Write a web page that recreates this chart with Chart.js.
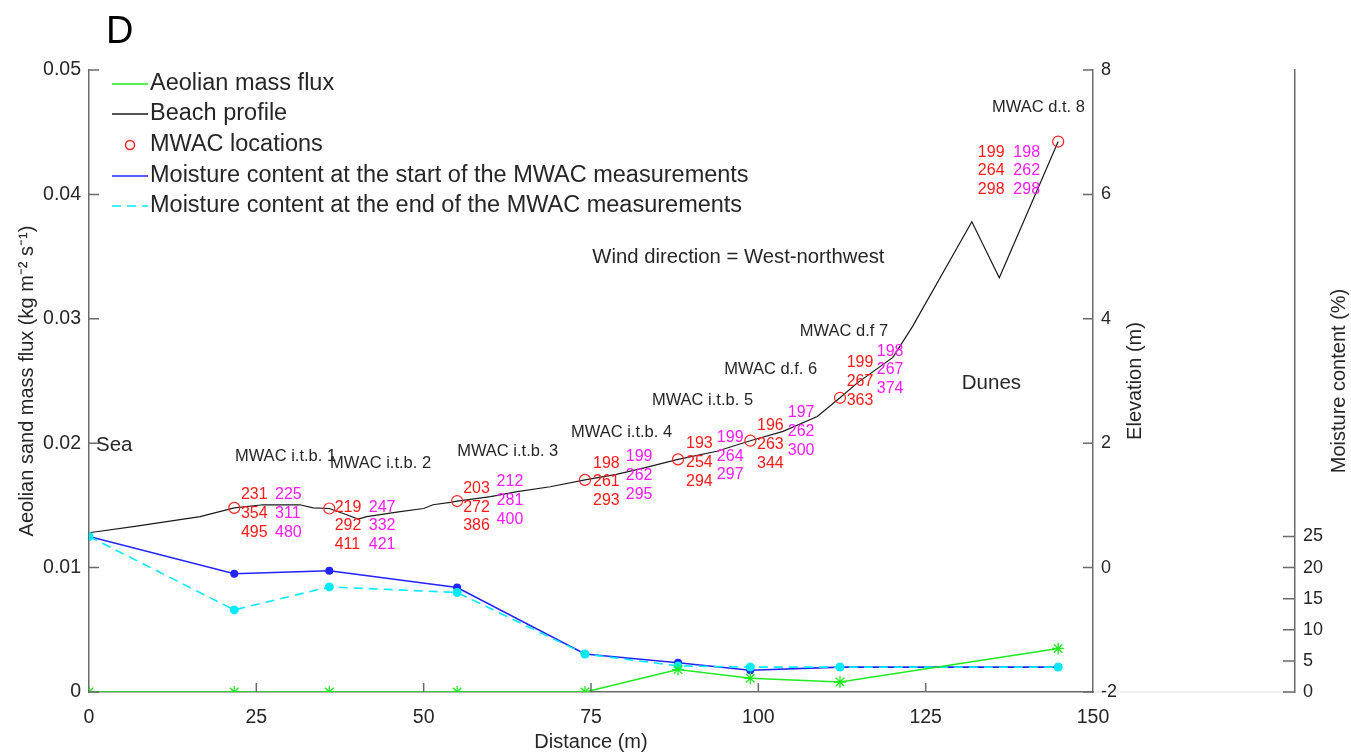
<!DOCTYPE html>
<html>
<head>
<meta charset="utf-8">
<script src="https://cdn.jsdelivr.net/npm/chart.js@4.4.1/dist/chart.umd.min.js"></script>
<style>
  body { margin: 0; background: #fff; }
  #wrap { width: 1351px; height: 753px; position: relative; }
</style>
</head>
<body>
<div id="wrap"><canvas id="myChart"></canvas></div>
<script>
// measurement points (m from the sea)
const distance = [0, 21.7, 35.9, 55, 74.1, 88, 98.8, 112.2, 144.8];
const fluxValues = [0, 0, 0, 0, 0, 0.0018, 0.0011, 0.0008, 0.0035];
const moistureStart = [25, 19.0, 19.5, 16.8, 6.1, 4.7, 3.5, 4.0, 4.0];
const moistureEnd = [25, 13.2, 16.9, 16.0, 6.1, 4.2, 4.0, 4.0, 4.0];

// beach profile
const profileDistance = [0, 6.6, 16.6, 21.7, 26, 31.5, 33.5, 35.9, 38.5, 40.2, 41.5, 46.5, 50, 51.4, 54, 55,
  60, 64, 68.9, 74.1, 78.8, 82.8, 88, 93.8, 98.8, 103.7, 108.8, 112.2, 114.8, 120.1, 123, 131.9, 136, 144.8];
const profileElevation = [0.56, 0.66, 0.82, 0.96, 1.01, 1.01, 0.96, 0.95, 0.85, 0.78, 0.82, 0.9, 0.95, 1.01, 1.05, 1.07,
  1.14, 1.22, 1.30, 1.41, 1.50, 1.60, 1.74, 1.87, 2.04, 2.19, 2.43, 2.73, 2.97, 3.38, 3.87, 5.56, 4.66, 6.85];

// MWAC stations
const mwacDistance = [21.7, 35.9, 55, 74.1, 88, 98.8, 112.2, 144.8];
const mwacElevation = [0.96, 0.95, 1.07, 1.41, 1.74, 2.04, 2.73, 6.85];
const mwacNames = ['MWAC i.t.b. 1', 'MWAC i.t.b. 2', 'MWAC i.t.b. 3', 'MWAC i.t.b. 4',
  'MWAC i.t.b. 5', 'MWAC d.f. 6', 'MWAC d.f 7', 'MWAC d.t. 8'];
const mwacRed = [[231, 354, 495], [219, 292, 411], [203, 272, 386], [198, 261, 293],
  [193, 254, 294], [196, 263, 344], [199, 267, 363], [199, 264, 298]];
const mwacMagenta = [[225, 311, 480], [247, 332, 421], [212, 281, 400], [199, 262, 295],
  [199, 264, 297], [197, 262, 300], [198, 267, 374], [198, 262, 298]];

const fluxTicks = [0, 0.01, 0.02, 0.03, 0.04, 0.05];
const elevTicks = [-2, 0, 2, 4, 6, 8];
const moistTicks = [0, 5, 10, 15, 20, 25];
const distTicks = [0, 25, 50, 75, 100, 125, 150];

// where the text goes, in (distance, elevation)
const namePos = [[21.8, 1.78], [36.0, 1.67], [55.0, 1.87], [72.0, 2.18], [84.1, 2.68], [94.9, 3.19], [106.2, 3.79], [134.9, 7.39]];
const redPos = [[22.7, 1.17], [36.7, 0.97], [55.9, 1.27], [75.3, 1.68], [89.2, 1.99], [99.8, 2.28], [113.2, 3.29], [132.8, 6.68]];
const magPos = [[27.8, 1.17], [41.8, 0.97], [60.9, 1.38], [80.2, 1.78], [93.8, 2.09], [104.4, 2.49], [117.7, 3.48], [138.1, 6.68]];

const FONT = "'Liberation Sans', Arial, sans-serif";
const AXIS = '#6a6a6a';
const TXT = '#262626';
const GREEN = 'rgb(30,235,30)';
const BLUE = 'rgb(35,35,255)';
const CYAN = 'rgb(0,235,255)';

function pts(xs, ys) {
  return xs.map((x, i) => ({ x: x, y: ys[i] }));
}

const extras = {
  id: 'extras',
  beforeDraw(chart) {
    const c = chart.ctx, a = chart.chartArea;
    c.save();
    c.strokeStyle = '#ececec';
    c.lineWidth = 1.5;
    c.beginPath(); c.moveTo(a.right, a.bottom); c.lineTo(chart.scales.yMoist.left, a.bottom); c.stroke();
    c.restore();
  },
  afterDraw(chart) {
    const c = chart.ctx;
    const s = chart.scales;
    const a = chart.chartArea;
    const X = v => s.x.getPixelForValue(v);
    const E = v => s.yElev.getPixelForValue(v);
    c.save();

    // inward tick marks
    c.strokeStyle = AXIS;
    c.lineWidth = 1.5;
    c.beginPath();
    distTicks.slice(1, -1).forEach(v => { c.moveTo(X(v), a.bottom); c.lineTo(X(v), a.bottom - 9); });
    fluxTicks.forEach(v => { const y = s.y.getPixelForValue(v); c.moveTo(a.left, y); c.lineTo(a.left + 10, y); });
    elevTicks.forEach(v => { const y = E(v); c.moveTo(a.right, y); c.lineTo(a.right - 10, y); });
    const mx = s.yMoist.left;
    moistTicks.forEach(v => { const y = s.yMoist.getPixelForValue(v); c.moveTo(mx, y); c.lineTo(mx - 12, y); });
    c.stroke();

    // axis titles
    c.fillStyle = TXT;
    c.textAlign = 'center';
    c.textBaseline = 'middle';
    c.font = '20px ' + FONT;
    const mid = (a.top + a.bottom) / 2;
    c.fillText('Distance (m)', (a.left + a.right) / 2, 742);
    [[27, 'Aeolian sand mass flux (kg m\u207B\u00B2 s\u207B\u00B9)'], [1135, 'Elevation (m)'], [1339, 'Moisture content (%)']].forEach(t => {
      c.save(); c.translate(t[0], mid); c.rotate(-Math.PI / 2); c.fillText(t[1], 0, 0); c.restore();
    });

    // panel letter
    c.textAlign = 'left';
    c.font = '38px ' + FONT;
    c.fillStyle = '#000';
    c.fillText('D', 106, 33);

    // station labels
    c.textBaseline = 'middle';
    c.font = '16.5px ' + FONT;
    c.fillStyle = TXT;
    mwacNames.forEach((n, i) => c.fillText(n, X(namePos[i][0]), E(namePos[i][1])));
    c.font = '20.5px ' + FONT;
    c.fillText('Sea', X(1.05), E(1.97));
    c.fillText('Dunes', X(130.4), E(2.97));
    c.font = '20.3px ' + FONT;
    c.fillText('Wind direction = West-northwest', X(75.2), E(4.98));

    c.font = '16px ' + FONT;
    mwacRed.forEach((col, i) => {
      c.fillStyle = '#ff1a1a';
      col.forEach((v, r) => c.fillText(String(v), X(redPos[i][0]), E(redPos[i][1]) + r * 18.7));
      c.fillStyle = '#ff1aff';
      mwacMagenta[i].forEach((v, r) => c.fillText(String(v), X(magPos[i][0]), E(magPos[i][1]) + r * 18.7));
    });

    // legend
    const lx = a.left + 23, tx = a.left + 61;
    const rows = [14, 44, 75, 106, 136].map(d => a.top + d);
    c.font = '23.5px ' + FONT;
    c.fillStyle = TXT;
    chart.data.datasets.forEach((d, i) => {
      const y = rows[i];
      c.fillText(d.label, tx, y);
      c.strokeStyle = d.borderColor;
      c.lineWidth = 1.5;
      c.setLineDash(d.borderDash || []);
      if (d.showLine === false) {
        c.beginPath(); c.arc(lx + 18, y, 4.5, 0, Math.PI * 2); c.stroke();
      } else {
        c.beginPath(); c.moveTo(lx, y); c.lineTo(lx + 36, y); c.stroke();
      }
      c.setLineDash([]);
    });
    c.restore();
  }
};

const ctx = document.getElementById('myChart').getContext('2d');

const myChart = new Chart(ctx, {
  type: 'line',
  data: {
    datasets: [
      {
        label: 'Aeolian mass flux',
        data: pts(distance, fluxValues),
        yAxisID: 'y',
        borderColor: GREEN,
        backgroundColor: GREEN,
        borderWidth: 1.5,
        pointStyle: 'star',
        pointRadius: 6,
        pointBorderWidth: 1.3,
        order: 1
      },
      {
        label: 'Beach profile',
        data: pts(profileDistance, profileElevation),
        yAxisID: 'yElev',
        borderColor: '#1a1a1a',
        borderWidth: 1.2,
        pointRadius: 0,
        order: 5
      },
      {
        label: 'MWAC locations',
        data: pts(mwacDistance, mwacElevation),
        yAxisID: 'yElev',
        showLine: false,
        borderColor: '#ff2020',
        backgroundColor: 'rgba(0,0,0,0)',
        pointStyle: 'circle',
        pointRadius: 5.5,
        pointBorderWidth: 1.2,
        order: 4
      },
      {
        label: 'Moisture content at the start of the MWAC measurements',
        data: pts(distance, moistureStart),
        yAxisID: 'yMoist',
        borderColor: BLUE,
        backgroundColor: BLUE,
        borderWidth: 1.6,
        pointRadius: 4,
        pointBorderWidth: 0,
        order: 3
      },
      {
        label: 'Moisture content at the end of the MWAC measurements',
        data: pts(distance, moistureEnd),
        yAxisID: 'yMoist',
        borderColor: CYAN,
        backgroundColor: CYAN,
        borderWidth: 1.6,
        borderDash: [9, 6],
        pointRadius: 4.5,
        pointBorderWidth: 0,
        order: 2
      }
    ]
  },
  options: {
    responsive: true,
    maintainAspectRatio: false,
    animation: false,
    layout: { padding: { top: 70, right: 0, left: 0, bottom: 0 } },
    plugins: { legend: { display: false }, tooltip: { enabled: false } },
    elements: { line: { tension: 0 } },
    scales: {
      x: {
        type: 'linear', min: 0, max: 150,
        afterBuildTicks: sc => { sc.ticks = distTicks.map(v => ({ value: v })); },
        ticks: { font: { size: 19.5, family: FONT }, color: TXT, padding: 6 },
        grid: { display: false },
        border: { color: AXIS, width: 1.5 },
        afterFit: sc => { sc.height = 61; }
      },
      y: {
        position: 'left', min: 0, max: 0.05,
        afterBuildTicks: sc => { sc.ticks = fluxTicks.map(v => ({ value: v })); },
        ticks: { font: { size: 19.5, family: FONT }, color: TXT, padding: 0,
          callback: v => v === 0 ? '0' : v.toFixed(2) },
        grid: { display: false },
        border: { color: AXIS, width: 1.5 },
        afterFit: sc => { sc.width = 89; }
      },
      yElev: {
        position: 'right', min: -2, max: 8, weight: 0,
        afterBuildTicks: sc => { sc.ticks = elevTicks.map(v => ({ value: v })); },
        ticks: { font: { size: 18, family: FONT }, color: TXT, padding: 0 },
        grid: { display: false },
        border: { color: AXIS, width: 1.5 },
        afterFit: sc => { sc.width = 202; }
      },
      yMoist: {
        position: 'right', min: 0, max: 100, weight: 1,
        afterBuildTicks: sc => { sc.ticks = moistTicks.map(v => ({ value: v })); },
        ticks: { font: { size: 18, family: FONT }, color: TXT, padding: 0 },
        grid: { display: false },
        border: { color: AXIS, width: 1.5 },
        afterFit: sc => { sc.width = 56; }
      }
    }
  },
  plugins: [extras]
});
</script>
</body>
</html>
